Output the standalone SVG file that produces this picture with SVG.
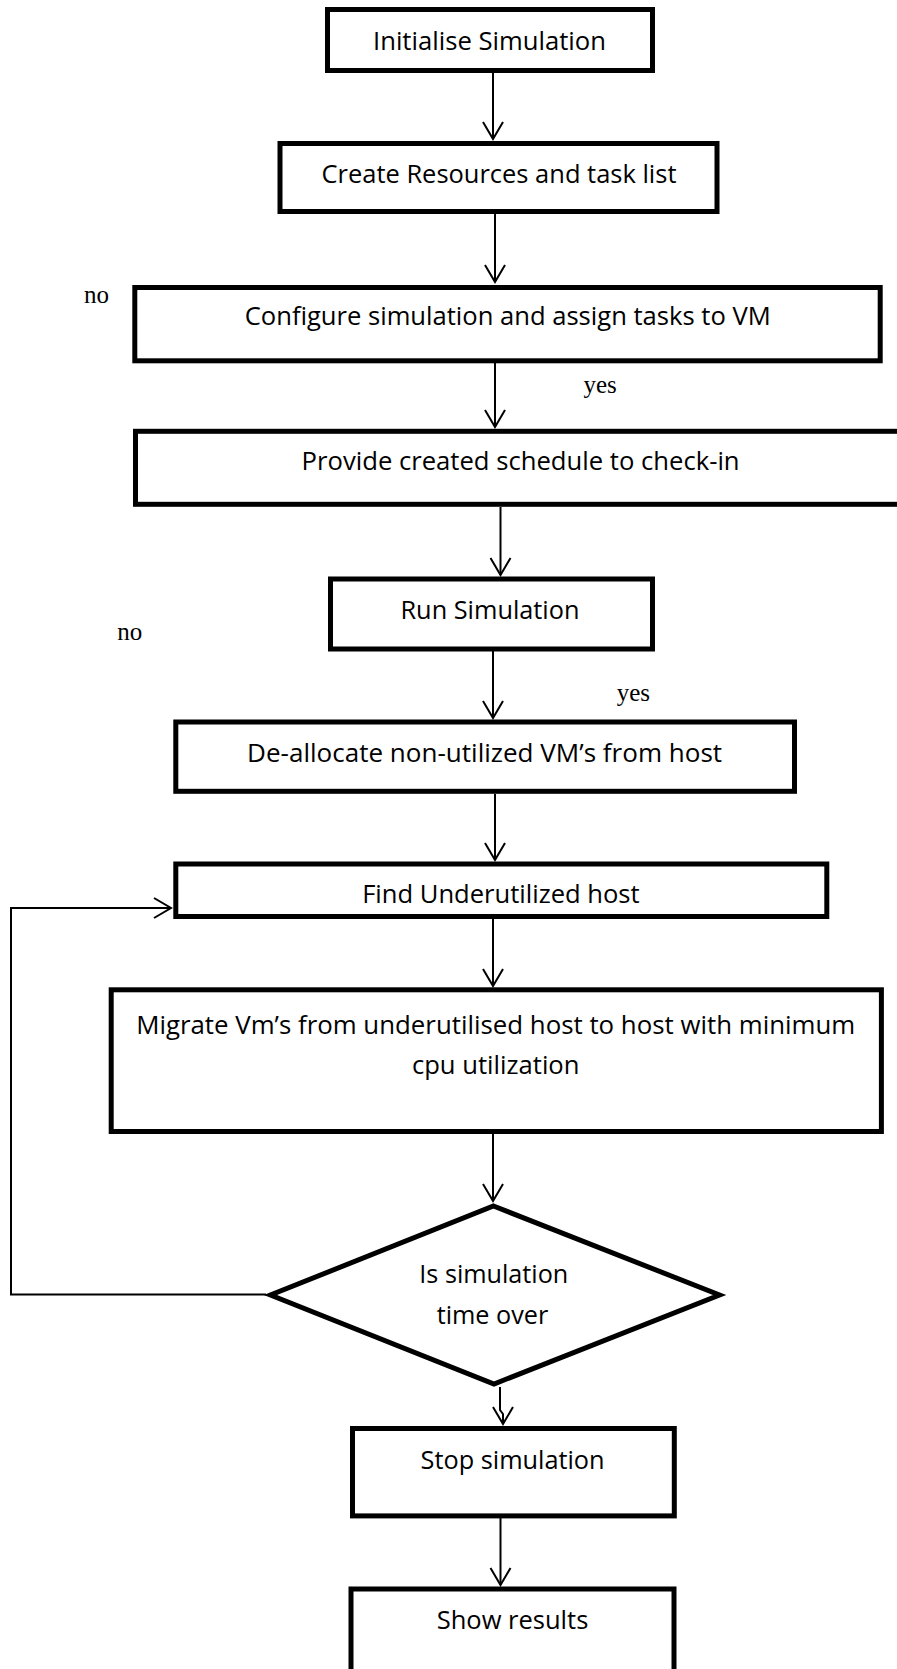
<svg xmlns="http://www.w3.org/2000/svg" width="897" height="1669" viewBox="0 0 897 1669">
<style>
.box{fill:#fff;stroke:#000;stroke-width:5}
.t{font-family:"Open Sans","Noto Sans","Liberation Sans",sans-serif;font-size:26px;fill:#000;text-anchor:middle}
.lbl{font-family:"Liberation Serif","Times New Roman",serif;font-size:25px;fill:#000}
.c{fill:none;stroke:#000;stroke-width:2}
</style>
<defs>
<marker id="ah" markerUnits="userSpaceOnUse" markerWidth="24" markerHeight="26" viewBox="-19 -13 21 26" refX="0" refY="0" orient="auto">
<path d="M-17,-10 L0,0 L-17,10" fill="none" stroke="#000" stroke-width="2"/>
</marker>
</defs>
<rect width="897" height="1669" fill="#fff"/>

<g id="connectors">
<path class="c" d="M493,72 V139" marker-end="url(#ah)"/>
<path class="c" d="M495,214 V282" marker-end="url(#ah)"/>
<path class="c" d="M495,363 V427" marker-end="url(#ah)"/>
<path class="c" d="M500.5,507 V575" marker-end="url(#ah)"/>
<path class="c" d="M493,651 V718" marker-end="url(#ah)"/>
<path class="c" d="M495,794 V860" marker-end="url(#ah)"/>
<path class="c" d="M493,919 V986" marker-end="url(#ah)"/>
<path class="c" d="M493,1134 V1201" marker-end="url(#ah)"/>
<path class="c" stroke-width="2.6" d="M500,1387 V1410 L503,1414 V1424" marker-end="url(#ah)"/>
<path class="c" d="M500.5,1518 V1585" marker-end="url(#ah)"/>
<path class="c" d="M266,1294.5 H11 V908 H171" marker-end="url(#ah)"/>
</g>

<g id="n-init">
<rect class="box" x="327.5" y="9.5" width="325" height="61"/>
<text class="t" x="489.5" y="50" textLength="233" lengthAdjust="spacingAndGlyphs">Initialise Simulation</text>
</g>
<g id="n-create">
<rect class="box" x="280" y="143.5" width="437" height="68"/>
<text class="t" x="499" y="182.5" textLength="355" lengthAdjust="spacingAndGlyphs">Create Resources and task list</text>
</g>
<g id="n-configure">
<rect class="box" x="134.8" y="287.5" width="745.4" height="73.3"/>
<text class="t" x="507.7" y="325" textLength="526" lengthAdjust="spacingAndGlyphs">Configure simulation and assign tasks to VM</text>
</g>
<g id="n-provide">
<rect class="box" x="135.5" y="431.3" width="800" height="73"/>
<text class="t" x="520.6" y="470.3" textLength="438" lengthAdjust="spacingAndGlyphs">Provide created schedule to check-in</text>
</g>
<g id="n-run">
<rect class="box" x="330.5" y="579" width="322" height="70"/>
<text class="t" x="490" y="619.2" textLength="179" lengthAdjust="spacingAndGlyphs">Run Simulation</text>
</g>
<g id="n-dealloc">
<rect class="box" x="175.8" y="722" width="618.7" height="69.3"/>
<text class="t" x="484.6" y="761.6" textLength="475" lengthAdjust="spacingAndGlyphs">De-allocate non-utilized VM’s from host</text>
</g>
<g id="n-find">
<rect class="box" x="175.8" y="864" width="651" height="52.5"/>
<text class="t" x="500.9" y="903" textLength="277.5" lengthAdjust="spacingAndGlyphs">Find Underutilized host</text>
</g>
<g id="n-migrate">
<rect class="box" x="111.2" y="989.8" width="770.2" height="141.7"/>
<text class="t" x="495.7" y="1033.5" textLength="719" lengthAdjust="spacingAndGlyphs">Migrate Vm’s from underutilised host to host with minimum</text>
<text class="t" x="495.7" y="1074.2" textLength="167.6" lengthAdjust="spacingAndGlyphs">cpu utilization</text>
</g>
<g id="n-decision">
<polygon class="box" points="493.5,1206 719.5,1295 494,1384 270.5,1295"/>
<text class="t" x="493.8" y="1283.3" textLength="149" lengthAdjust="spacingAndGlyphs">Is simulation</text>
<text class="t" x="492.5" y="1324" textLength="111.6" lengthAdjust="spacingAndGlyphs">time over</text>
</g>
<g id="n-stop">
<rect class="box" x="352.5" y="1428.5" width="321.8" height="87.4"/>
<text class="t" x="512.6" y="1468.6" textLength="184" lengthAdjust="spacingAndGlyphs">Stop simulation</text>
</g>
<g id="n-show">
<rect class="box" x="351" y="1589" width="323" height="200"/>
<text class="t" x="512.5" y="1629.3" textLength="151.6" lengthAdjust="spacingAndGlyphs">Show results</text>
</g>

<g id="labels">
<text class="lbl" x="84" y="303.3">no</text>
<text class="lbl" x="583.5" y="392.5">yes</text>
<text class="lbl" x="117.3" y="639.5">no</text>
<text class="lbl" x="616.7" y="701">yes</text>
</g>
</svg>
